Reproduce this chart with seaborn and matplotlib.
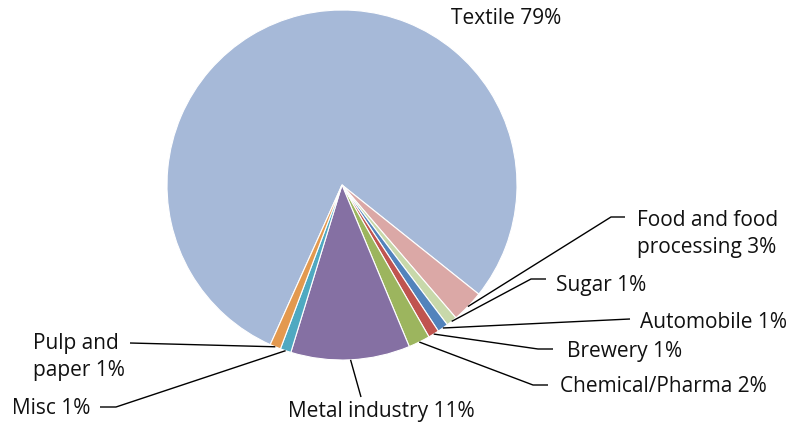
import numpy as np
import matplotlib
matplotlib.use("Agg")
import matplotlib.pyplot as plt
import seaborn as sns

# Water use by industry sector (share of total, %)
sectors = ["Textile", "Food and food\nprocessing", "Sugar", "Automobile", "Brewery",
           "Chemical/Pharma", "Metal industry", "Misc", "Pulp and\npaper"]
shares = [79, 3, 1, 1, 1, 2, 11, 1, 1]
colors = ["#A6B9D8", "#DBA8A6", "#C8D8AA", "#5283BC", "#C0544F",
          "#9CB55E", "#8570A3", "#4FA9C1", "#E3994F"]

sns.set_theme(style="white")
plt.rcParams["font.family"] = ["Open Sans", "DejaVu Sans"]

W, H = 802, 426
fig = plt.figure(figsize=(W / 100, H / 100), dpi=100)
ax = fig.add_axes([0, 0, 1, 1])


def px(x, y):
    """Convert top-left pixel coordinates into axes data coordinates."""
    return x, H - y


cx, cy = px(342, 185)
R = 175

wedges, _ = ax.pie(shares, colors=colors, startangle=90 - 204.2, counterclock=False,
                   radius=R, center=(cx, cy),
                   wedgeprops=dict(edgecolor="white", linewidth=0.8))
ax.set_xlim(0, W)
ax.set_ylim(0, H)
ax.set_aspect("equal")
ax.axis("off")

# label placement: text anchor, alignment, and bend points of the leader line
layout = [
    dict(text=(506, 18), ha="center", path=None),
    dict(text=(637, 234), ha="left", path=[(611, 217), (625, 217)]),
    dict(text=(556, 286), ha="left", path=[(531, 279), (546, 279)]),
    dict(text=(640, 323), ha="left", path=[(630, 319)]),
    dict(text=(567, 351), ha="left", path=[(538, 349), (553, 349)]),
    dict(text=(560, 386), ha="left", path=[(533, 385), (548, 385)]),
    dict(text=(381, 412), ha="center", path=[(361, 397)]),
    dict(text=(12, 408), ha="left", path=[(116, 407), (100, 407)]),
    dict(text=(33, 357), ha="left", path=[(130, 343)]),
]

for wedge, name, share, spec in zip(wedges, sectors, shares, layout):
    tx, ty = px(*spec["text"])
    ax.text(tx, ty, f"{name} {share}%", ha=spec["ha"], va="center",
            fontsize=15, color="#111111", linespacing=1.4)
    if spec["path"] is None:
        continue
    mid = np.deg2rad((wedge.theta1 + wedge.theta2) / 2)
    xs = [cx + R * np.cos(mid)]
    ys = [cy + R * np.sin(mid)]
    for bx, by in spec["path"]:
        dx, dy = px(bx, by)
        xs.append(dx)
        ys.append(dy)
    ax.plot(xs, ys, color="black", linewidth=1.0, solid_capstyle="butt")

fig.savefig("out.png", dpi=100)
